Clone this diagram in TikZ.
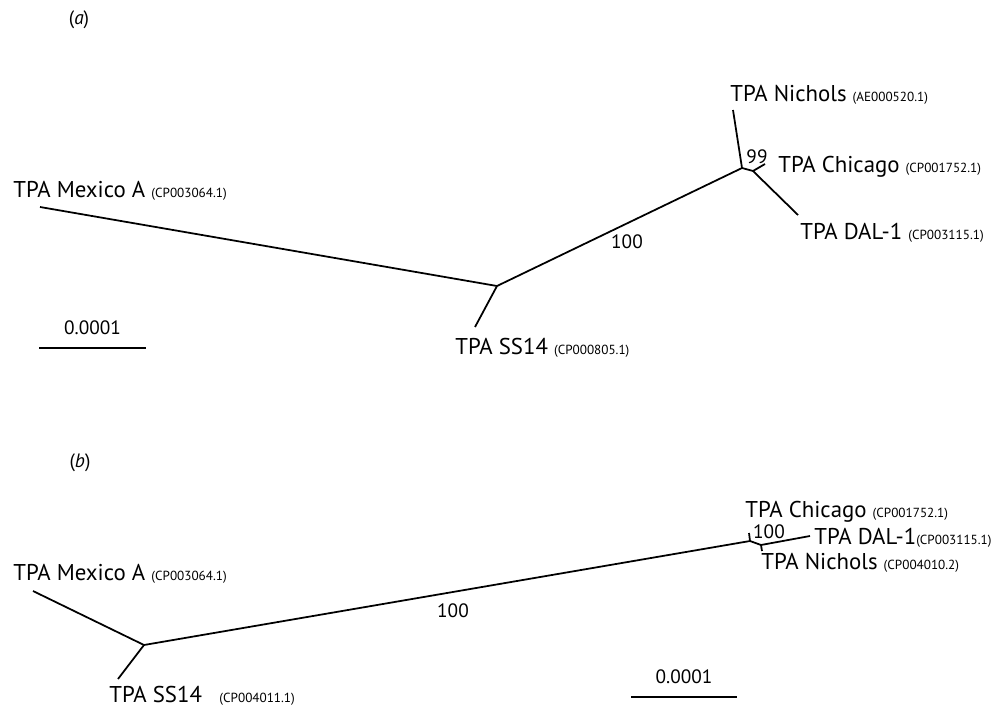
\documentclass[tikz,border=0pt]{standalone}
\usepackage{fontspec}
\setmainfont{PT Sans}
\usepackage{tikz}
\newcommand{\acc}[1]{{\fontsize{7.5}{8}\selectfont #1}}

\begin{document}
\begin{tikzpicture}[x=0.02cm,y=-0.02cm]
\tikzset{every node/.style={inner sep=0pt, font=\fontsize{13}{15}\selectfont},
	taxon/.style={anchor=base west},
	support/.style={font=\fontsize{11}{13}\selectfont},
	branch/.style={line width=1pt}}
\useasboundingbox (0,0) rectangle (1000,706);

% (a)
\node[support] (pa) at (79,20) {(\emph{a})};
\coordinate (a1) at (497,286);
\coordinate (a2) at (742,168);
\coordinate (a3) at (753,171);
\coordinate (amex) at (40,207);
\coordinate (ass) at (475,327);
\coordinate (anic) at (733,110);
\coordinate (achi) at (765,164);
\coordinate (adal) at (798,215);

\foreach \from/\to in {a1/amex,a1/ass,a1/a2,a2/anic,a2/a3,a3/achi,a3/adal}
{
	\draw[branch] (\from) -- (\to);
}

\node[taxon] (tamex) at (13,197) {TPA Mexico A \acc{(CP003064.1)}};
\node[taxon] (tass) at (455,354) {TPA SS14 \acc{(CP000805.1)}};
\node[taxon] (tanic) at (730,102) {TPA Nichols \acc{(AE000520.1)}};
\node[taxon] (tachi) at (778,172) {TPA Chicago \acc{(CP001752.1)}};
\node[taxon] (tadal) at (800,239) {TPA DAL-1 \acc{(CP003115.1)}};
\node[support] (sa1) at (757,157) {99};
\node[support] (sa2) at (627,242) {100};

\coordinate (sca1) at (39,348);
\coordinate (sca2) at (146,348);
\draw[branch] (sca1) -- node[support, above=7pt] (sla) {0.0001} (sca2);

% (b)
\node[support] (pb) at (80,463) {(\emph{b})};
\coordinate (b1) at (144,645);
\coordinate (b2) at (750,541);
\coordinate (b3) at (761,545);
\coordinate (bmex) at (33,591);
\coordinate (bss) at (118,679);
\coordinate (bchi) at (749,533);
\coordinate (bnic) at (762,551);
\coordinate (bdal) at (810,536);

\foreach \from/\to in {b1/bmex,b1/bss,b1/b2,b2/bchi,b2/b3,b3/bnic,b3/bdal}
{
	\draw[branch] (\from) -- (\to);
}

\node[taxon] (tbmex) at (13,580) {TPA Mexico A \acc{(CP003064.1)}};
\node[taxon] (tbss) at (109,702) {TPA SS14 \enspace\acc{(CP004011.1)}};
\node[taxon] (tbchi) at (745,517) {TPA Chicago \acc{(CP001752.1)}};
\node[taxon] (tbdal) at (814,544) {TPA DAL-1\acc{(CP003115.1)}};
\node[taxon] (tbnic) at (761,569) {TPA Nichols \acc{(CP004010.2)}};
\node[support] (sb2) at (769,532) {100};
\node[support] (sb1) at (453,611) {100};

\coordinate (scb1) at (631,697);
\coordinate (scb2) at (737,697);
\draw[branch] (scb1) -- node[support, above=7pt] (slb) {0.0001} (scb2);
\end{tikzpicture}
\end{document}
